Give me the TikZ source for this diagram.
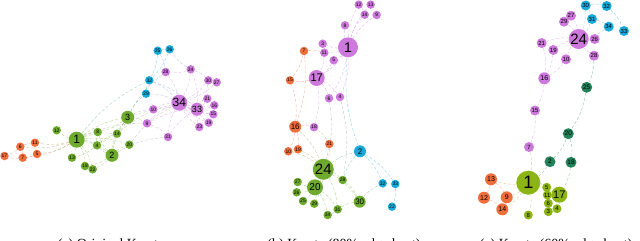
\documentclass[tikz,border=0pt]{standalone}
\usepackage{fontspec}
\setmainfont{Liberation Serif}
\newfontfamily\lblfont{Liberation Sans}
\usetikzlibrary{backgrounds}
\definecolor{grn}{RGB}{110,170,45}
\definecolor{vio}{RGB}{205,120,220}
\definecolor{cyn}{RGB}{25,170,220}
\definecolor{org}{RGB}{240,110,60}
\definecolor{dkg}{RGB}{35,130,90}
\definecolor{olv}{RGB}{140,180,20}
\newcommand\lbl[1]{\lblfont\fontsize{#1}{#1}\selectfont}
\tikzset{
  v/.style={circle, fill=#1, inner sep=0pt, minimum size=8.5pt, font=\lbl{5}},
  sz/.style 2 args={minimum size=#1pt, font=\lbl{#2}},
  ed/.style={densely dashed, line width=0.35pt, draw opacity=0.55},
  captxt/.style={anchor=base, font=\fontsize{14}{14}\selectfont},
}

\begin{document}
\begin{tikzpicture}[x=1pt, y=-1pt]
  \useasboundingbox (0,0) rectangle (640,241);

  % (a) original
  \foreach \n/\x/\y in {4/97/145.3, 8/97.7/132, 12/56.7/130.3, 13/72/157.7, 14/117/133.7,
      18/85/166, 20/129.3/144.7, 22/92.7/169.3}
    \node[v=grn] (a\n) at (\x,\y) {\n};
  \node[v=grn, sz={16}{12}] (a1) at (76.7,139.7) {1};
  \node[v=grn, sz={13}{9}] (a2) at (112,155.3) {2};
  \node[v=grn, sz={13}{9}] (a3) at (127.7,117.3) {3};
  \foreach \n/\x/\y in {5/37/154, 6/20.3/146.7, 7/22.7/157.7, 11/35/142.7, 17/4.5/156}
    \node[v=org] (a\n) at (\x,\y) {\n};
  \foreach \n/\x/\y in {25/157.7/50.7, 26/169.7/49.3, 29/146/93.7, 32/149.3/80.3}
    \node[v=cyn] (a\n) at (\x,\y) {\n};
  \foreach \n/\x/\y in {9/147/123.3, 10/153.3/109.3, 15/213.3/114.3, 16/214.3/105.3,
      19/208.7/122.7, 21/207.3/98.7, 23/199.3/127, 24/190.7/69.3, 27/216.7/82.3,
      28/165.7/72, 30/208.3/80.3, 31/168/137}
    \node[v=vio] (a\n) at (\x,\y) {\n};
  \node[v=vio, sz={13}{9}] (a33) at (197,109.3) {33};
  \node[v=vio, sz={16}{12}] (a34) at (179.3,102.7) {34};

  % (b) 80% edges kept
  \foreach \n/\x/\y in {3/322.7/43.7, 4/340/97, 5/333.7/60.3, 6/329/98.3, 8/345/25.3,
      9/376.7/15, 11/324.3/52.7, 12/358.7/4.6, 13/370.7/4.6, 14/364.7/14.7, 18/314/127.2}
    \node[v=vio] (b\n) at (\x,\y) {\n};
  \node[v=vio, sz={20}{14}] (b1) at (348,47.3) {1};
  \node[v=vio, sz={16}{11}] (b17) at (316.7,78) {17};
  \foreach \n/\x/\y in {7/304/51, 15/290/80.3, 10/288.3/151.3, 19/298/149.3, 21/329.3/144}
    \node[v=org] (b\n) at (\x,\y) {\n};
  \node[v=org, sz={12}{8}] (b16) at (295.2,126.7) {16};
  \foreach \n/\x/\y in {27/297.7/182, 26/296.7/192.3, 25/303/201, 29/314.3/203.7,
      31/337.7/209.3, 34/327.7/215, 28/342.7/180}
    \node[v=grn] (b\n) at (\x,\y) {\n};
  \node[v=grn, sz={21}{15}] (b24) at (323.3,169.3) {24};
  \node[v=grn, sz={16}{10}] (b20) at (315,187.3) {20};
  \node[v=grn, sz={12}{8}] (b30) at (359.7,201.7) {30};
  \foreach \n/\x/\y in {32/382.7/183.3, 33/395.3/184, 22/392/206.7}
    \node[v=cyn] (b\n) at (\x,\y) {\n};
  \node[v=cyn, sz={12}{8}] (b2) at (360,151.3) {2};

  % (c) 60% edges kept
  \foreach \n/\x/\y in {30/585.7/5.5, 32/606.7/6, 31/592/19, 34/608.7/26.7, 33/624/31}
    \node[v=cyn, sz={10}{6}] (c\n) at (\x,\y) {\n};
  \foreach \n/\x/\y in {27/571/15.7, 29/564/21.7, 26/594.7/39, 21/541.7/43, 19/553.3/50,
      10/566/59.3, 28/594/55.7, 15/535/110.5, 7/529/147}
    \node[v=vio, sz={10}{6}] (c\n) at (\x,\y) {\n};
  \node[v=vio, sz={20}{15}] (c24) at (578.7,39) {24};
  \node[v=vio, sz={12}{7}] (c16) at (544.3,78.3) {16};
  \foreach \n/\x/\y in {25/586.7/87.3, 20/568.3/133.7, 2/550/161.7, 18/571/162.3}
    \node[v=dkg, sz={11}{6.5}] (c\n) at (\x,\y) {\n};
  \foreach \n/\x/\y in {5/546.7/187.3, 11/547.3/195, 6/548.3/203.3, 3/548.3/211.7,
      4/557/208.7, 8/528.3/215}
    \node[v=olv, sz={9}{6}] (c\n) at (\x,\y) {\n};
  \node[v=olv, sz={24}{18}] (c1) at (528.3,182.7) {1};
  \node[v=olv, sz={16}{11}] (c17) at (559.3,194.7) {17};
  \foreach \n/\x/\y in {13/491/179.3, 12/484/197.7, 9/506.7/197.3, 14/502.3/209.3}
    \node[v=org, sz={12}{7}] (c\n) at (\x,\y) {\n};

  \begin{scope}[on background layer, every to/.style={bend left=12}]
    % edges (a)
    \foreach \a/\b in {1/2,1/3,1/4,1/8,1/12,1/13,1/14,1/18,1/20,1/22,2/3,2/4,2/8,2/14,
        2/18,2/20,2/22,3/4,3/8,3/14,4/8,4/13,4/14}
      \draw[ed, grn] (a\a) to (a\b);
    \foreach \a/\b in {1/5,1/6,1/7,1/11}
      \draw[ed, org!50!grn] (a\a) to (a\b);
    \foreach \a/\b in {5/7,5/11,6/7,6/11,6/17,7/17}
      \draw[ed, org] (a\a) to (a\b);
    \foreach \a/\b in {1/9,3/9,3/10,3/28,3/33,2/31,20/34,14/34}
      \draw[ed, grn!50!vio] (a\a) to (a\b);
    \foreach \a/\b in {1/32,3/29}
      \draw[ed, grn!50!cyn] (a\a) to (a\b);
    \foreach \a/\b in {25/26,25/32,26/32,29/32}
      \draw[ed, cyn] (a\a) to (a\b);
    \foreach \a/\b in {24/26,25/28,29/34,32/33,32/34}
      \draw[ed, cyn!50!vio] (a\a) to (a\b);
    \foreach \a/\b in {9/31,9/33,9/34,10/34,15/33,15/34,16/33,16/34,19/33,19/34,21/33,
        21/34,23/33,23/34,24/28,24/30,24/33,24/34,27/30,27/34,28/34,30/33,30/34,31/33,
        31/34,33/34}
      \draw[ed, vio] (a\a) to (a\b);

    % edges (b)
    \foreach \a/\b in {1/8,1/12,1/13,1/14,1/9,1/3,1/11,1/5,1/17,1/4,1/6,11/17,5/17,
        17/6,17/4,17/18,3/11,12/14}
      \draw[ed, vio] (b\a) to (b\b);
    \foreach \a/\b in {17/15,7/11,7/15,15/16,16/10,16/19,16/18,7/16}
      \draw[ed, org] (b\a) to (b\b);
    \foreach \a/\b in {16/24,19/24,10/24,21/24,18/21}
      \draw[ed, org!50!grn] (b\a) to (b\b);
    \foreach \a/\b in {6/24,4/28}
      \draw[ed, gray] (b\a) to (b\b);
    \foreach \a/\b in {2/1,2/32,2/33,33/22}
      \draw[ed, cyn] (b\a) to (b\b);
    \foreach \a/\b in {24/2,28/2,30/32}
      \draw[ed, grn!50!cyn] (b\a) to (b\b);
    \foreach \a/\b in {24/20,24/28,24/31,20/27,20/26,20/25,20/29,20/31,20/34,31/34,
        31/30,28/30,24/30,24/29}
      \draw[ed, grn] (b\a) to (b\b);

    % edges (c)
    \foreach \a/\b in {30/32,32/33,31/34,30/31}
      \draw[ed, cyn] (c\a) to (c\b);
    \foreach \a/\b in {30/24,31/24,34/24}
      \draw[ed, cyn!50!vio] (c\a) to (c\b);
    \foreach \a/\b in {27/24,29/24,26/24,21/24,19/16,21/16,10/16,10/24,28/24,16/15,
        15/7,19/24}
      \draw[ed, vio] (c\a) to (c\b);
    \foreach \a/\b in {28/25,25/20,20/2,20/18}
      \draw[ed, dkg] (c\a) to (c\b);
    \draw[ed, olv!50!vio] (c7) to (c1);
    \foreach \a/\b in {2/1,18/17}
      \draw[ed, olv!50!dkg] (c\a) to (c\b);
    \foreach \a/\b in {13/12,12/14,9/14,13/9}
      \draw[ed, org] (c\a) to (c\b);
    \foreach \a/\b in {1/13,1/9,1/14}
      \draw[ed, org!50!olv] (c\a) to (c\b);
    \foreach \a/\b in {1/8,1/5,17/5,17/11,17/6,17/4,3/4,6/3,11/6,5/11}
      \draw[ed, olv] (c\a) to (c\b);
  \end{scope}

  % captions, cut off by the page edge
  \node[captxt] (capa) at (111,248) {(a) Original Karate};
  \node[captxt] (capb) at (344,248) {(b) Karate (80\% edge kept)};
  \node[captxt] (capc) at (556,248) {(c) Karate (60\% edge kept)};
\end{tikzpicture}
\end{document}
